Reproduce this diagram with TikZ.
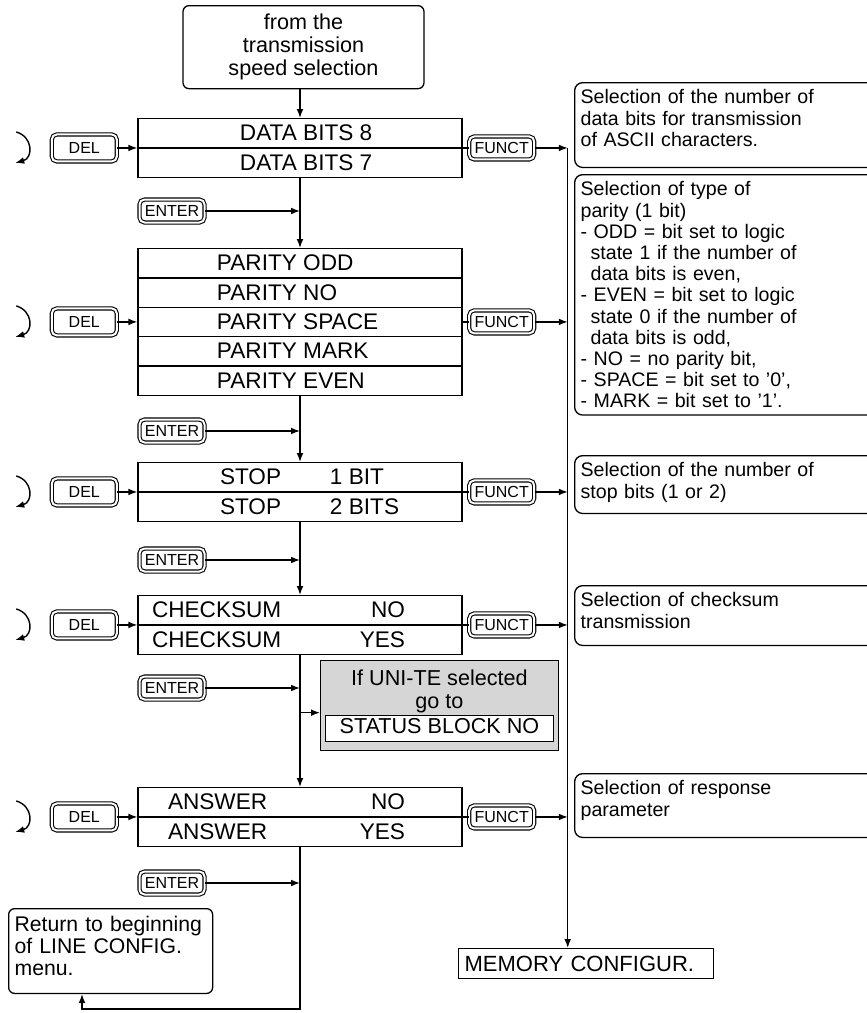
\documentclass[tikz,border=0pt]{standalone}
\usepackage{fontspec}
\setmainfont{Liberation Sans}
\usepackage{xcolor}
\usepackage{tikz}
\usetikzlibrary{arrows.meta, positioning, shapes.multipart, calc}
\definecolor{dotgray}{HTML}{D6D6D6}
\newcommand\menufont{\fontsize{11.3}{12}\selectfont}
\newcommand\notefont{\fontsize{9.8}{10.6}\selectfont}
\newcommand\keyfont{\fontsize{8}{10}\selectfont}
\newcommand\boxfont{\fontsize{10.8}{11.5}\selectfont}
\newcommand\mrow[2]{\makebox[162pt][l]{\hspace*{#1}\rule[-3.2pt]{0pt}{14pt}#2}}
\newcommand\tail[1]{\rule[-#1]{0pt}{0pt}}

\begin{document}
\begin{tikzpicture}[
    x=0.5pt, y=-0.5pt,
    line width=0.65pt,
    >={Latex[length=4.5pt, width=3.4pt]},
    menu/.style={draw, rectangle split, rectangle split parts=#1, inner sep=0pt, anchor=north, font=\menufont},
    key/.style={draw, double, double distance=1pt, line width=0.55pt, rounded corners=2.5pt, inner sep=0pt, minimum width=32.5pt, minimum height=11.5pt, font=\keyfont},
    delkey/.style={key, minimum height=13.5pt},
    note/.style={draw, rounded corners=4pt, align=left, text width=146pt, inner xsep=3pt, inner ysep=3.5pt, anchor=north west, font=\notefont},
    flow/.style={->},
    loopsym/.pic={\draw[->, line width=0.7pt] (-5,-16) .. controls (12,-11) and (12,10) .. (-6,15);},
  ]
  \useasboundingbox (0,0) rectangle (867,1013);
  % ---- start
  \node[draw, rounded corners=3pt, align=center, minimum width=120.5pt, minimum height=41.5pt, inner sep=3pt, anchor=north, font=\boxfont] (speed) at (303.5,5) {from the\\ transmission\\ speed selection};
  % ---- menu boxes
  \node[menu=2] (databits) at (300,118) {\mrow{51pt}{DATA BITS 8}\nodepart{two}\mrow{51pt}{DATA BITS 7}};
  \node[menu=5] (parity) at (300,248) {\mrow{39.5pt}{PARITY ODD}\nodepart{two}\mrow{39.5pt}{PARITY NO}\nodepart{three}\mrow{39.5pt}{PARITY SPACE}\nodepart{four}\mrow{39.5pt}{PARITY MARK}\nodepart{five}\mrow{39.5pt}{PARITY EVEN}};
  \node[menu=2] (stop) at (300,462) {\mrow{41pt}{\makebox[55pt][l]{STOP}1 BIT}\nodepart{two}\mrow{41pt}{\makebox[55pt][l]{STOP}2 BITS}};
  \node[menu=2] (checksum) at (300,595) {\mrow{7pt}{\makebox[126.5pt][l]{CHECKSUM}\llap{NO}}\nodepart{two}\mrow{7pt}{\makebox[126.5pt][l]{CHECKSUM}\llap{YES}}};
  \node[menu=2] (answer) at (300,787) {\mrow{15pt}{\makebox[118.5pt][l]{ANSWER}\llap{NO}}\nodepart{two}\mrow{15pt}{\makebox[118.5pt][l]{ANSWER}\llap{YES}}};
  % ---- keys
  \foreach \m/\i in {databits/1, parity/2, stop/3, checksum/4, answer/5} {
    \node[delkey, left=10pt of \m.west] (del\i) {DEL};
    \node[key, right=3pt of \m.east] (funct\i) {FUNCT};
    \pic at ($(del\i.west)+(-30,0)$) {loopsym};
  }
  \node[key] (enter1) at (172,211) {ENTER};
  \node[key] (enter2) at (172,431) {ENTER};
  \node[key] (enter3) at (172,560) {ENTER};
  \node[key] (enter4) at (172,688) {ENTER};
  \node[key] (enter5) at (172,883) {ENTER};
  % ---- side notes
  \node[note] (n1) at (574,82) {Selection of the number of\\ data bits for transmission\\ of ASCII characters.\tail{7.1pt}};
  \node[note] (n2) at (574,174) {Selection of type of\\ parity (1 bit)\\ - ODD = bit set to logic\\ \hspace*{5pt}state 1 if the number of\\ \hspace*{5pt}data bits is even,\\ - EVEN = bit set to logic\\ \hspace*{5pt}state 0 if the number of\\ \hspace*{5pt}data bits is odd,\\ - NO = no parity bit,\\ - SPACE = bit set to '0',\\ - MARK = bit set to '1'.};
  \node[note] (n3) at (574,455) {Selection of the number of\\ stop bits (1 or 2)\tail{4.2pt}};
  \node[note] (n4) at (574,585) {Selection of checksum\\ transmission\tail{5.2pt}};
  \node[note] (n5) at (574,773) {Selection of response\\ parameter\tail{7.2pt}};
  % ---- other boxes
  \node[draw, fill=dotgray, align=center, minimum width=118.5pt, minimum height=45pt, inner sep=2pt, anchor=north west, font=\boxfont] (unite) at (320,660) {If UNI-TE selected\\ go to\\ \setlength\fboxsep{1.5pt}\fcolorbox{black}{white}{\makebox[111pt]{\rule[-2pt]{0pt}{9.5pt}STATUS BLOCK NO}}};
  \node[draw, align=left, text width=121.5pt, minimum height=15pt, inner xsep=3pt, inner ysep=1pt, anchor=north west, font=\fontsize{11}{12}\selectfont] (memory) at (458,948) {MEMORY CONFIGUR.};
  \node[draw, rounded corners=3pt, align=left, text width=96pt, inner xsep=3pt, inner ysep=3.5pt, anchor=north west, font=\fontsize{10.6}{11.2}\selectfont] (back) at (8,908) {Return to beginning\\ of LINE CONFIG.\\ menu.\tail{5.3pt}};
  % ---- arrows
  \draw[flow] (speed.south -| databits.north) -- (databits.north);
  \draw[flow] (databits.south) -- (parity.north);
  \draw[flow] (parity.south) -- (stop.north);
  \draw[flow] (stop.south) -- (checksum.north);
  \draw[flow] (checksum.south) -- (answer.north);
  \draw[flow] (enter1) -- (enter1 -| databits.south);
  \draw[flow] (enter2) -- (enter2 -| parity.south);
  \draw[flow] (enter3) -- (enter3 -| stop.south);
  \draw[flow] (enter4) -- (enter4 -| checksum.south);
  \draw[flow] (enter5) -- (enter5 -| answer.south);
  \draw[flow] ($(checksum.south |- unite.west)+(0,7)$) -- ($(unite.west)+(0,7)$);
  \coordinate (bus) at ($(funct1.east)+(33,0)$);
  \coordinate (turn) at (82,1009);
  \draw[flow] (answer.south) |- (turn) -- (turn |- back.south);
  \draw[flow] (bus) -- (bus |- memory.north);
  \foreach \i/\m in {1/databits, 2/parity, 3/stop, 4/checksum, 5/answer} {
    \draw[flow] (del\i) -- (\m.west);
    \draw (\m.east) -- (funct\i);
    \draw[flow] (funct\i) -- (funct\i -| bus);
  }
\end{tikzpicture}
\end{document}
